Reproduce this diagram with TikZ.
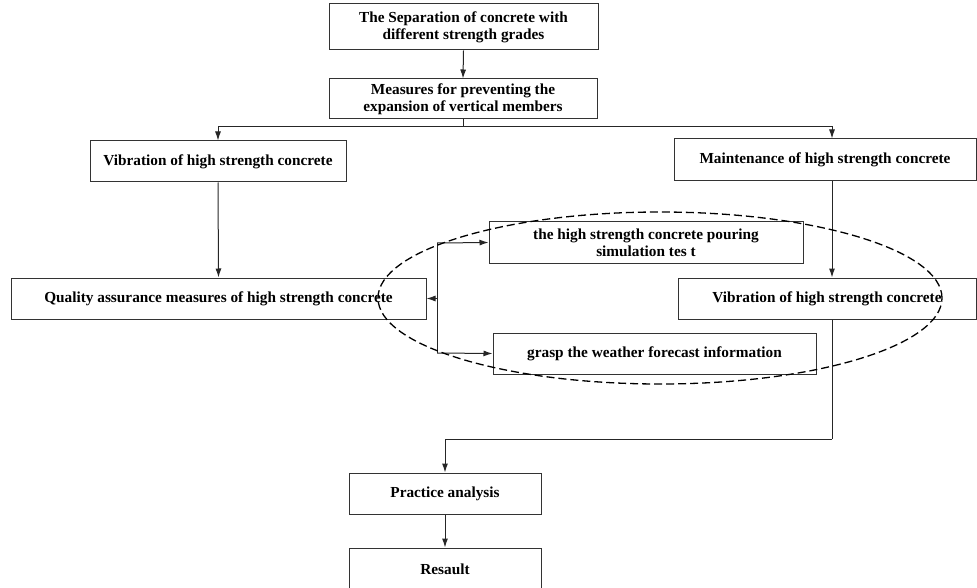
\documentclass[tikz,border=0pt]{standalone}
\usepackage{fontspec}
\setmainfont{Liberation Serif}
\usetikzlibrary{arrows.meta,calc}
\begin{document}
\begin{tikzpicture}[x=1pt,y=-1pt,
  box/.style={draw=black!80, line width=1pt, rectangle, inner sep=0pt, align=center,
    font=\fontsize{15.3}{17}\selectfont\bfseries},
  arr/.style={draw=black!85, line width=1pt, -{Latex[length=9pt,width=6pt]}},
  ln/.style={draw=black!85, line width=1pt},
  ring/.style={draw=black, line width=1.3pt, dash pattern=on 8pt off 4pt}]
\useasboundingbox (0,0) rectangle (977,588);
\node[box, minimum width=269pt, minimum height=46pt] (b1) at (463.5,27)
  {The Separation of concrete with\\different strength grades};
\node[box, minimum width=268pt, minimum height=40pt] (b2) at (463,99)
  {Measures for preventing the\\expansion of vertical members};
\node[box, minimum width=256pt, minimum height=41pt] (b3) at (218,161.5)
  {Vibration of high strength concrete};
\node[box, minimum width=302pt, minimum height=42pt] (b4) at (825,160)
  {Maintenance of high strength concrete};
\node[box, minimum width=415pt, minimum height=41pt] (b5) at (218.5,298.5)
  {Quality assurance measures of high strength concrete};
\node[box, minimum width=314pt, minimum height=41pt] (b6) at (646,242.5)
  {the high strength concrete pouring\\simulation tes t};
\node[box, minimum width=323pt, minimum height=41pt] (b7) at (654.5,353.5)
  {grasp the weather forecast information};
\node[box, minimum width=298pt, minimum height=41pt] (b8) at (827,298.5)
  {Vibration of high strength concrete};
\node[box, minimum width=192pt, minimum height=41pt] (b9) at (445,493.5)
  {Practice analysis};
\node[box, minimum width=192pt, minimum height=42pt] (b10) at (445,569)
  {Resault};

\coordinate (j1) at (463,127);
\coordinate (v1) at (437,243);
\coordinate (v2) at (437,353);
\coordinate (j2) at (832,439);

\draw[arr] (b1.south) -- (b2.north);
\draw[ln] (b2.south) -- (j1);
\draw[arr] (j1) -| (b3.north);
\draw[arr] (j1) -| ([xshift=7pt]b4.north);
\draw[arr] (b3.south) -- (b5.north);
\draw[arr] ([xshift=7pt]b4.south) -- ([xshift=5pt]b8.north);
\draw[ln] (v1) -- (v2);
\draw[arr] (v1) -- (b6.west);
\draw[arr] (v2) -- (b7.west);
\draw[arr] (b5.east -| v1) -- (b5.east);
\draw[ln] ([xshift=5pt]b8.south) -- (j2);
\draw[arr] (j2) -| (b9.north);
\draw[arr] (b9.south) -- (b10.north);

\draw[ring] (660,298) ellipse [x radius=282pt, y radius=86pt];
\end{tikzpicture}
\end{document}
